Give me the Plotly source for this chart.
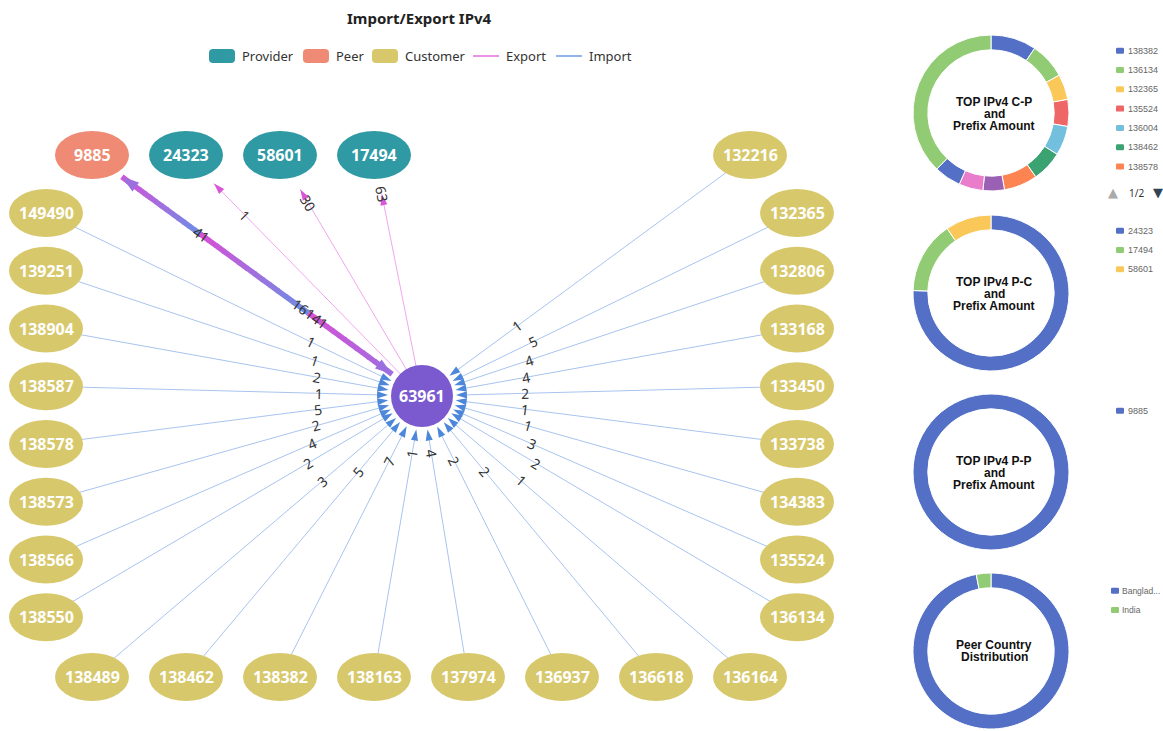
import math
import plotly.graph_objects as go

W, H = 1163, 731

# ---------------- data ----------------
center_as = "63961"
peer_as = ["9885"]
provider_as = ["24323", "58601", "17494"]

left_customers = ["149490", "139251", "138904", "138587", "138578", "138573", "138566", "138550"]
left_import = [1, 1, 2, 1, 5, 2, 4, 2]
bottom_customers = ["138489", "138462", "138382", "138163", "137974", "136937", "136618", "136164"]
bottom_import = [3, 5, 7, 1, 4, 2, 2, 1]
right_customers = ["132216", "132365", "132806", "133168", "133450", "133738", "134383", "135524", "136134"]
right_import = [1, 5, 4, 4, 2, 1, 1, 3, 2]

export_to = ["24323", "58601", "17494"]
export_values = [1, 30, 63]
peer_export_value = 41
peer_import_value = 16141

cp_labels = ["138382", "136134", "132365", "135524", "136004", "138462", "138578",
             "138163", "137974", "133168", "132806"]
cp_values = [34, 27, 19, 20, 22, 23, 25, 16, 18, 20, 136]
pc_labels = ["24323", "17494", "58601"]
pc_values = [151, 30, 19]
pp_labels = ["9885"]
pp_values = [16141]
country_labels = ["Bangladesh", "India"]
country_values = [32, 1]

donut_titles = [["TOP IPv4 C-P", "and", "Prefix Amount"],
                ["TOP IPv4 P-C", "and", "Prefix Amount"],
                ["TOP IPv4 P-P", "and", "Prefix Amount"],
                ["Peer Country", "Distribution"]]

legend_names = ["Provider", "Peer", "Customer", "Export", "Import"]

# ---------------- style ----------------
PALETTE = ["#5470c6", "#91cc75", "#fac858", "#ee6666", "#73c0de",
           "#3ba272", "#fc8452", "#9a60b4", "#ea7ccc"]
C_PROV, C_PEER, C_CUST, C_CENTER = "#2f99a4", "#ef8b74", "#d8c86c", "#7b5ad0"
C_IMP_LINE, C_EXP_LINE = "#a8c4ef", "#f0a6ec"
C_IMP_ARROW, C_EXP_ARROW, C_THICK_ARROW = "#4d87d9", "#d957d6", "#9c6fe0"
FONT = "Noto Sans"

CX, CY = 422, 396
ROW_TOP, ROW_BOT = 155, 677
COL_L, COL_R = 46, 797
COL0, COL_STEP = 92, 94
ROW0, ROW_STEP = 213, 57.75
EW, EH = 37, 24   # ellipse half sizes
CR = 31           # centre radius

pos = {center_as: (CX, CY)}
for i, n in enumerate(peer_as + provider_as):
    pos[n] = (COL0 + COL_STEP * i, ROW_TOP)
for i, n in enumerate(left_customers):
    pos[n] = (COL_L, ROW0 + ROW_STEP * i)
for i, n in enumerate(bottom_customers):
    pos[n] = (COL0 + COL_STEP * i, ROW_BOT)
pos[right_customers[0]] = (COL0 + COL_STEP * 7, ROW_TOP)
for i, n in enumerate(right_customers[1:]):
    pos[n] = (COL_R, ROW0 + ROW_STEP * i)


def unit(a, b):
    ax, ay = pos[a]
    bx, by = pos[b]
    dx, dy = bx - ax, by - ay
    L = math.hypot(dx, dy)
    return dx / L, dy / L, L


def heading(dx, dy):
    return math.degrees(math.atan2(dx, -dy))


def text_angle(dx, dy):
    a = math.degrees(math.atan2(dy, dx))
    while a > 90:
        a -= 180
    while a <= -90:
        a += 180
    return a


fig = go.Figure()
annotations = []
shapes = []

# ---- import edges (customers -> centre)
customers = left_customers + bottom_customers + right_customers
imports = left_import + bottom_import + right_import
lx, ly, ax_, ay_, aang = [], [], [], [], []
for n, v in zip(customers, imports):
    ux, uy, L = unit(center_as, n)
    sx, sy = pos[n]
    lx += [sx, CX + ux * 37, None]
    ly += [sy, CY + uy * 37, None]
    ax_.append(CX + ux * 34)
    ay_.append(CY + uy * 34)
    aang.append(heading(-ux, -uy))
    d = 0.49 * L - 81
    annotations.append(dict(x=CX + ux * d, y=CY + uy * d, text=str(v), showarrow=False,
                             textangle=text_angle(ux, uy),
                             font=dict(family=FONT, size=14, color="#333")))
fig.add_trace(go.Scatter(x=lx, y=ly, mode="lines", line=dict(color=C_IMP_LINE, width=1),
                         hoverinfo="skip"))

# ---- export edges (centre -> providers)
ex, ey, eax, eay, eang = [], [], [], [], []
for n, v in zip(export_to, export_values):
    wx, wy, L = unit(n, center_as)
    px, py = pos[n]
    ex += [CX, px + wx * 40, None]
    ey += [CY, py + wy * 40, None]
    eax.append(px + wx * 40)
    eay.append(py + wy * 40)
    eang.append(heading(-wx, -wy))
    d = 0.49 * L - 81
    annotations.append(dict(x=px + wx * d, y=py + wy * d, text=str(v), showarrow=False,
                             textangle=text_angle(wx, wy),
                             font=dict(family=FONT, size=14, color="#333")))
fig.add_trace(go.Scatter(x=ex, y=ey, mode="lines", line=dict(color=C_EXP_LINE, width=1),
                         hoverinfo="skip"))

# ---- peer edge (thick, both directions)
peer = peer_as[0]
wx, wy, L = unit(peer, center_as)
px, py = pos[peer]
p0 = (px + wx * 37, py + wy * 37)
p1 = (CX - wx * 37, CY - wy * 37)
pink, blue, purple = (217, 80, 214), (106, 143, 230), (160, 110, 224)


def lerp(c1, c2, t):
    return "rgb(%d,%d,%d)" % tuple(int(a + (b - a) * t) for a, b in zip(c1, c2))


bands = [(0.0, 0.29, pink, blue), (0.29, 0.69, pink, blue), (0.69, 1.0, pink, purple)]
NSEG = 14
for t0, t1, ca, cb in bands:
    for k in range(NSEG):
        s0 = t0 + (t1 - t0) * k / NSEG
        s1 = t0 + (t1 - t0) * (k + 1) / NSEG + 0.004
        col = lerp(ca, cb, (k + 0.5) / NSEG)
        fig.add_trace(go.Scatter(
            x=[p0[0] + (p1[0] - p0[0]) * s0, p0[0] + (p1[0] - p0[0]) * min(s1, 1)],
            y=[p0[1] + (p1[1] - p0[1]) * s0, p0[1] + (p1[1] - p0[1]) * min(s1, 1)],
            mode="lines", line=dict(color=col, width=5.5), hoverinfo="skip"))
d = 0.49 * L - 81
annotations.append(dict(x=px + wx * (d + 16), y=py + wy * (d + 16), text=str(peer_export_value),
                         showarrow=False, textangle=text_angle(wx, wy),
                         font=dict(family=FONT, size=14, color="#333")))
annotations.append(dict(x=CX - wx * (d + 20), y=CY - wy * (d + 20), text=str(peer_import_value),
                         showarrow=False, textangle=text_angle(wx, wy),
                         font=dict(family=FONT, size=14, color="#333")))

# ---- arrow heads
fig.add_trace(go.Scatter(x=ax_, y=ay_, mode="markers", hoverinfo="skip",
                         marker=dict(symbol="arrow", size=11.5, angle=aang, color=C_IMP_ARROW,
                                     line=dict(width=0))))
fig.add_trace(go.Scatter(x=eax, y=eay, mode="markers", hoverinfo="skip",
                         marker=dict(symbol="arrow", size=11.5, angle=eang, color=C_EXP_ARROW,
                                     line=dict(width=0))))
fig.add_trace(go.Scatter(x=[p0[0], p1[0]], y=[p0[1], p1[1]], mode="markers", hoverinfo="skip",
                         marker=dict(symbol="arrow", size=18,
                                     angle=[heading(-wx, -wy), heading(wx, wy)],
                                     color=C_THICK_ARROW, line=dict(width=0))))

# ---- nodes
def node_color(n):
    if n in peer_as:
        return C_PEER
    if n in provider_as:
        return C_PROV
    return C_CUST


for n, (x, y) in pos.items():
    if n == center_as:
        shapes.append(dict(type="circle", xref="x", yref="y", x0=x - CR, x1=x + CR,
                           y0=y - CR, y1=y + CR, fillcolor=C_CENTER, line=dict(width=0)))
    else:
        shapes.append(dict(type="circle", xref="x", yref="y", x0=x - EW, x1=x + EW,
                           y0=y - EH, y1=y + EH, fillcolor=node_color(n), line=dict(width=0)))
    annotations.append(dict(x=x, y=y, text="<b>%s</b>" % n, showarrow=False,
                             font=dict(family=FONT, size=16, color="white")))

# ---- title & main legend
annotations.append(dict(x=419, y=18, text="<b>Import/Export IPv4</b>", showarrow=False,
                         font=dict(family=FONT, size=15, color="#222")))


def rrect(x0, y0, x1, y1, r):
    return ("M{a},{y0} L{b},{y0} Q{x1},{y0} {x1},{c} L{x1},{d} Q{x1},{y1} {b},{y1} "
            "L{a},{y1} Q{x0},{y1} {x0},{d} L{x0},{c} Q{x0},{y0} {a},{y0} Z").format(
        a=x0 + r, b=x1 - r, c=y0 + r, d=y1 - r, x0=x0, x1=x1, y0=y0, y1=y1)


leg_sym_x = [209, 303, 372, 473, 556]
leg_cols = [C_PROV, C_PEER, C_CUST, "#e36fd9", "#6f9be3"]
LEG_Y = 56
for i, name in enumerate(legend_names):
    x0 = leg_sym_x[i]
    if i < 3:
        shapes.append(dict(type="path", xref="x", yref="y", path=rrect(x0, LEG_Y - 7, x0 + 26, LEG_Y + 7, 4),
                           fillcolor=leg_cols[i], line=dict(width=0)))
    else:
        shapes.append(dict(type="line", xref="x", yref="y", x0=x0, x1=x0 + 26, y0=LEG_Y, y1=LEG_Y,
                           line=dict(color=leg_cols[i], width=1.5)))
    annotations.append(dict(x=x0 + 31, y=LEG_Y, text=name, showarrow=False, xanchor="left",
                             font=dict(family=FONT, size=13, color="#333")))

# ---- donuts
PIE_CX, PIE_R = 991, 78
pie_cy = [113, 293, 472, 651]
donuts = [(cp_labels, cp_values), (pc_labels, pc_values), (pp_labels, pp_values),
          (country_labels, country_values)]
legend_y0 = [50.7, 230.7, 410.7, 590.7]
legend_x0 = [1116, 1116, 1116, 1111]
legend_tx = [11, 11, 11, 10]
legend_fs = [9, 9, 9, 8.5]
LEG_STEP = 19.3
MAX_LEG = 7

for k, ((labs, vals), cy) in enumerate(zip(donuts, pie_cy)):
    cols = [PALETTE[i % len(PALETTE)] for i in range(len(labs))]
    fig.add_trace(go.Pie(labels=labs, values=vals, hole=0.81, sort=False, direction="clockwise",
                         rotation=0, textinfo="none", showlegend=False,
                         marker=dict(colors=cols, line=dict(color="white", width=1)),
                         domain=dict(x=[(PIE_CX - PIE_R) / W, (PIE_CX + PIE_R) / W],
                                     y=[1 - (cy + PIE_R) / H, 1 - (cy - PIE_R) / H])))
    lines = donut_titles[k]
    n = len(lines)
    for j, t in enumerate(lines):
        annotations.append(dict(x=PIE_CX + 3, y=cy + (j - (n - 1) / 2) * 11.8 + (1 if n == 3 else 0),
                                 text="<b>%s</b>" % t, showarrow=False,
                                 font=dict(family="Liberation Sans", size=12, color="#111")))
    for j, lab in enumerate(labs[:MAX_LEG]):
        y = legend_y0[k] + LEG_STEP * j
        x0 = legend_x0[k]
        shapes.append(dict(type="path", xref="x", yref="y", path=rrect(x0, y - 3, x0 + 8, y + 3, 1.2),
                           fillcolor=cols[j], line=dict(width=0)))
        disp = lab if len(lab) <= 8 else lab[:7] + "..."
        annotations.append(dict(x=x0 + legend_tx[k], y=y, text=disp, showarrow=False, xanchor="left",
                                 borderpad=0,
                                 font=dict(family="Liberation Sans", size=legend_fs[k], color="#666")))
    if len(labs) > MAX_LEG:
        pages = math.ceil(len(labs) / MAX_LEG)
        y = legend_y0[k] + LEG_STEP * MAX_LEG + 7
        annotations.append(dict(x=1113, y=y, text="▲", showarrow=False,
                                 font=dict(family="DejaVu Sans", size=13, color="#aaa")))
        annotations.append(dict(x=1136, y=y, text="1/%d" % pages, showarrow=False,
                                 font=dict(family=FONT, size=10, color="#333")))
        annotations.append(dict(x=1158, y=y, text="▼", showarrow=False,
                                 font=dict(family="DejaVu Sans", size=13, color="#2f4554")))

fig.update_layout(
    width=W, height=H, margin=dict(l=0, r=0, t=0, b=0),
    paper_bgcolor="white", plot_bgcolor="white", showlegend=False,
    xaxis=dict(range=[0, W], visible=False, fixedrange=True, domain=[0, 1]),
    yaxis=dict(range=[H, 0], visible=False, fixedrange=True, domain=[0, 1]),
    annotations=annotations, shapes=shapes,
)
fig.write_html("out.html", config={"displayModeBar": False},
               post_script="document.body.style.margin='0';document.body.style.overflow='hidden';")
